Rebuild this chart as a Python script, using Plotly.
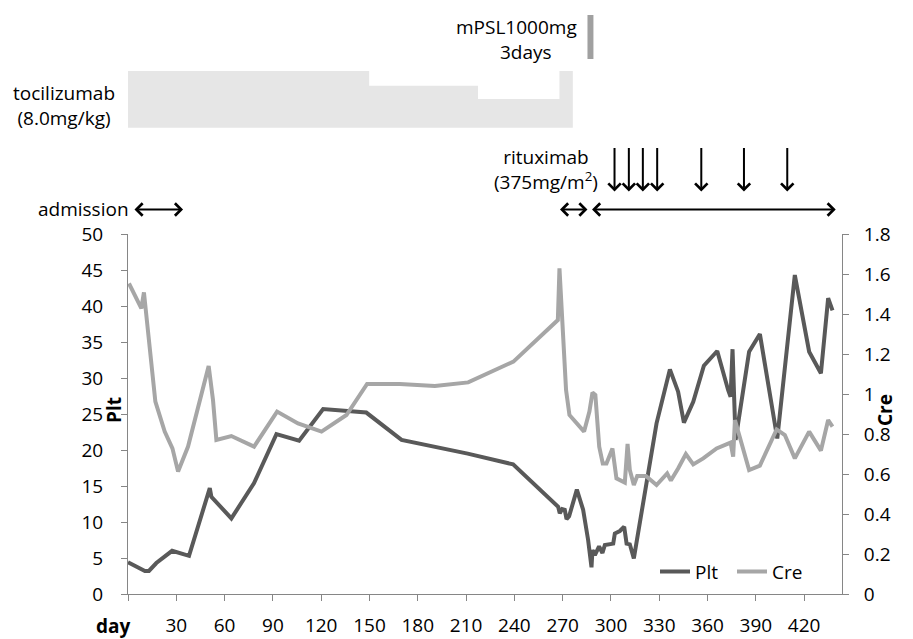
import plotly.graph_objects as go

# ---- data ----
plt_days = [0, 10.5, 13, 17.6, 27.4, 37.9, 50.8, 51.8, 64.2, 78.3, 92.2, 106.3, 121.2, 148,
            169.9, 211, 239.2, 267.2, 268.2, 269.7, 271.3, 272.4, 274, 278.8, 282.7, 285.8,
            287.9, 288.5, 290, 292.6, 294.7, 296.2, 301.4, 302.4, 305.5, 308.2, 309.7, 311.7,
            314.2, 316.9, 328.3, 336.6, 341.7, 345.3, 351.1, 357.7, 366, 372.8, 374.3, 375.5,
            377.4, 385.8, 392.5, 403.3, 414.2, 423.1, 430.4, 434.9, 437.6]
plt_vals = [4.4, 3.2, 3.2, 4.3, 6.0, 5.3, 14.7, 13.5, 10.5, 15.4, 22.2, 21.3, 25.7, 25.2,
            21.4, 19.5, 18.0, 12.1, 11.2, 11.8, 11.7, 10.4, 10.8, 14.5, 11.7, 7.5,
            3.7, 6.1, 5.4, 6.6, 5.7, 6.8, 7.0, 8.4, 8.75, 9.35, 7.0, 6.9,
            4.95, 8.65, 23.7, 31.2, 28.1, 23.8, 26.7, 31.7, 33.75, 28.3, 27.4, 34.0,
            21.4, 33.65, 36.1, 21.6, 44.3, 33.65, 30.65, 41.1, 39.4]

cre_days = [0.6, 8.3, 9.9, 17.0, 22.8, 27.6, 31.1, 37.3, 50.1, 52.8, 54.9, 64.2, 78.3, 92.6,
            105.6, 120.2, 135.7, 148.5, 168.8, 190.6, 211.3, 239.4, 267, 268, 272.1, 274.2,
            283.3, 286.6, 288.5, 290.3, 292.7, 294.9, 297.2, 300.9, 303.4, 308.6, 310.3, 311.7,
            314.2, 316.3, 321.7, 328.3, 334.9, 337.2, 341.7, 346.5, 351.1, 357.3, 365.6, 374.3,
            375.9, 377, 385.8, 392.5, 402.9, 408, 414.2, 423.1, 430.4, 434.9, 437.6]
cre_vals = [1.553, 1.428, 1.508, 0.962, 0.812, 0.728, 0.612, 0.737, 1.14, 0.97, 0.77, 0.79, 0.737, 0.912,
            0.853, 0.812, 0.895, 1.05, 1.05, 1.04, 1.058, 1.162, 1.37, 1.628, 1.02, 0.895,
            0.812, 0.912, 1.007, 0.995, 0.737, 0.653, 0.653, 0.728, 0.578, 0.557, 0.75, 0.62,
            0.545, 0.59, 0.59, 0.545, 0.603, 0.567, 0.628, 0.70, 0.648, 0.678, 0.728, 0.757,
            0.687, 0.87, 0.62, 0.642, 0.823, 0.795, 0.678, 0.812, 0.717, 0.87, 0.837]

x_ticks = [0, 30, 60, 90, 120, 150, 180, 210, 240, 270, 300, 330, 360, 390, 420]
x_ticktext = [""] + [str(v) for v in x_ticks[1:]]

# treatment timeline (days)
toci_steps = [0, 149.8, 217.4, 268, 276.3]      # tocilizumab block edges
mpsl_days = [285.4, 289.1]                      # mPSL pulse
ritux_days = [302.2, 311.1, 319.8, 328.7, 356.1, 382.6, 409.5]
admission = [3.1, 34.2]
period2 = [267.4, 285.4]
period3 = [287.3, 439.6]

FONT = "Open Sans"
FS = 19
AX = "#868686"

fig = go.Figure()
fig.add_trace(go.Scatter(x=plt_days, y=plt_vals, mode="lines", name="Plt",
                         line=dict(color="#595959", width=4)))
fig.add_trace(go.Scatter(x=cre_days, y=cre_vals, mode="lines", name="Cre", yaxis="y2",
                         line=dict(color="#A6A6A6", width=4)))

L, R, T, B = 128, 71, 234, 45
H = 639 - T - B


def py(p):
    return (639 - B - p) / H


def px(p):
    return (p - L) / (913 - L - R)


# tocilizumab block
yb, yt, y1, y2 = py(127.7), py(71), py(85.7), py(99)
s = toci_steps
path = (f"M {s[0]},{yb} L {s[0]},{yt} L {s[1]},{yt} L {s[1]},{y1} L {s[2]},{y1} "
        f"L {s[2]},{y2} L {s[3]},{y2} L {s[3]},{yt} L {s[4]},{yt} L {s[4]},{yb} Z")
fig.add_shape(type="path", path=path, xref="x", yref="paper",
              fillcolor="#E6E6E6", line=dict(width=0), layer="above")
fig.add_shape(type="rect", xref="x", yref="paper", x0=mpsl_days[0], x1=mpsl_days[1],
              y0=py(59), y1=py(15), fillcolor="#A0A0A0", line=dict(width=0))

# rituximab arrows
for d in ritux_days:
    fig.add_annotation(x=d, y=py(191.5), xref="x", yref="paper", text="",
                       showarrow=True, ax=0, ay=-45, arrowhead=4, arrowsize=1.2,
                       arrowwidth=2, arrowcolor="black", standoff=0)

# double arrows
for a, b in [admission, period2, period3]:
    fig.add_annotation(x=b, y=py(209.5), xref="x", yref="paper", text="",
                       showarrow=True, axref="x", ax=a, ayref="pixel", ay=0,
                       arrowhead=4, startarrowhead=4, arrowside="end+start",
                       arrowsize=1.2, startarrowsize=1.2,
                       arrowwidth=2, arrowcolor="black", standoff=0, startstandoff=0)

txt = dict(font=dict(family=FONT, size=FS, color="black"), showarrow=False,
           xref="paper", yref="paper")
fig.add_annotation(text="admission", x=px(131), y=py(209), xanchor="right", yanchor="middle", **txt)
fig.add_annotation(text="tocilizumab<br>(8.0mg/kg)", x=px(64), y=py(105.5),
                   xanchor="center", yanchor="middle", align="center", **txt)
fig.add_annotation(text="mPSL1000mg", x=px(579), y=py(27), xanchor="right", yanchor="middle", **txt)
fig.add_annotation(text="3days", x=px(526), y=py(52), xanchor="center", yanchor="middle", **txt)
fig.add_annotation(text="rituximab<br>(375mg/m<sup>2</sup>)", x=px(546), y=py(169),
                   xanchor="center", yanchor="middle", align="center", **txt)

bold = dict(font=dict(family=FONT, size=FS, color="black", weight="bold"), showarrow=False,
            xref="paper", yref="paper")
fig.add_annotation(text="<b>Plt</b>", x=px(114), y=py(410), textangle=-90,
                   xanchor="center", yanchor="middle", **bold)
fig.add_annotation(text="<b>Cre</b>", x=px(885), y=py(410), textangle=-90,
                   xanchor="center", yanchor="middle", **bold)
fig.add_annotation(text="<b>day</b>", x=px(113), y=py(626), xanchor="center", yanchor="middle", **bold)

axis_common = dict(showline=True, linecolor=AX, linewidth=1, ticks="outside", ticklen=6,
                   tickcolor=AX, showgrid=False, zeroline=False,
                   tickfont=dict(family=FONT, size=FS, color="black"))

fig.update_layout(
    width=913, height=639,
    margin=dict(l=L, r=R, t=T, b=B, autoexpand=False),
    paper_bgcolor="white", plot_bgcolor="white",
    font=dict(family=FONT, size=FS, color="black"),
    xaxis=dict(range=[0, 443.5], tickvals=x_ticks, ticktext=x_ticktext,
               ticklabelstandoff=8, **axis_common),
    yaxis=dict(range=[0, 50], dtick=5, tick0=0, ticklabelstandoff=14, **axis_common),
    yaxis2=dict(range=[0, 1.8], dtick=0.2, tick0=0, overlaying="y", side="right",
                ticklabelstandoff=11, **axis_common),
    legend=dict(orientation="h", x=px(655), y=py(571.7), xanchor="left", yanchor="middle",
                itemwidth=30, entrywidth=32, font=dict(family=FONT, size=FS, color="black"),
                bgcolor="rgba(0,0,0,0)", tracegroupgap=0),
    showlegend=True,
)

fig.write_html("out.html", post_script="document.body.style.margin='0px';",
               config={"displayModeBar": False})
